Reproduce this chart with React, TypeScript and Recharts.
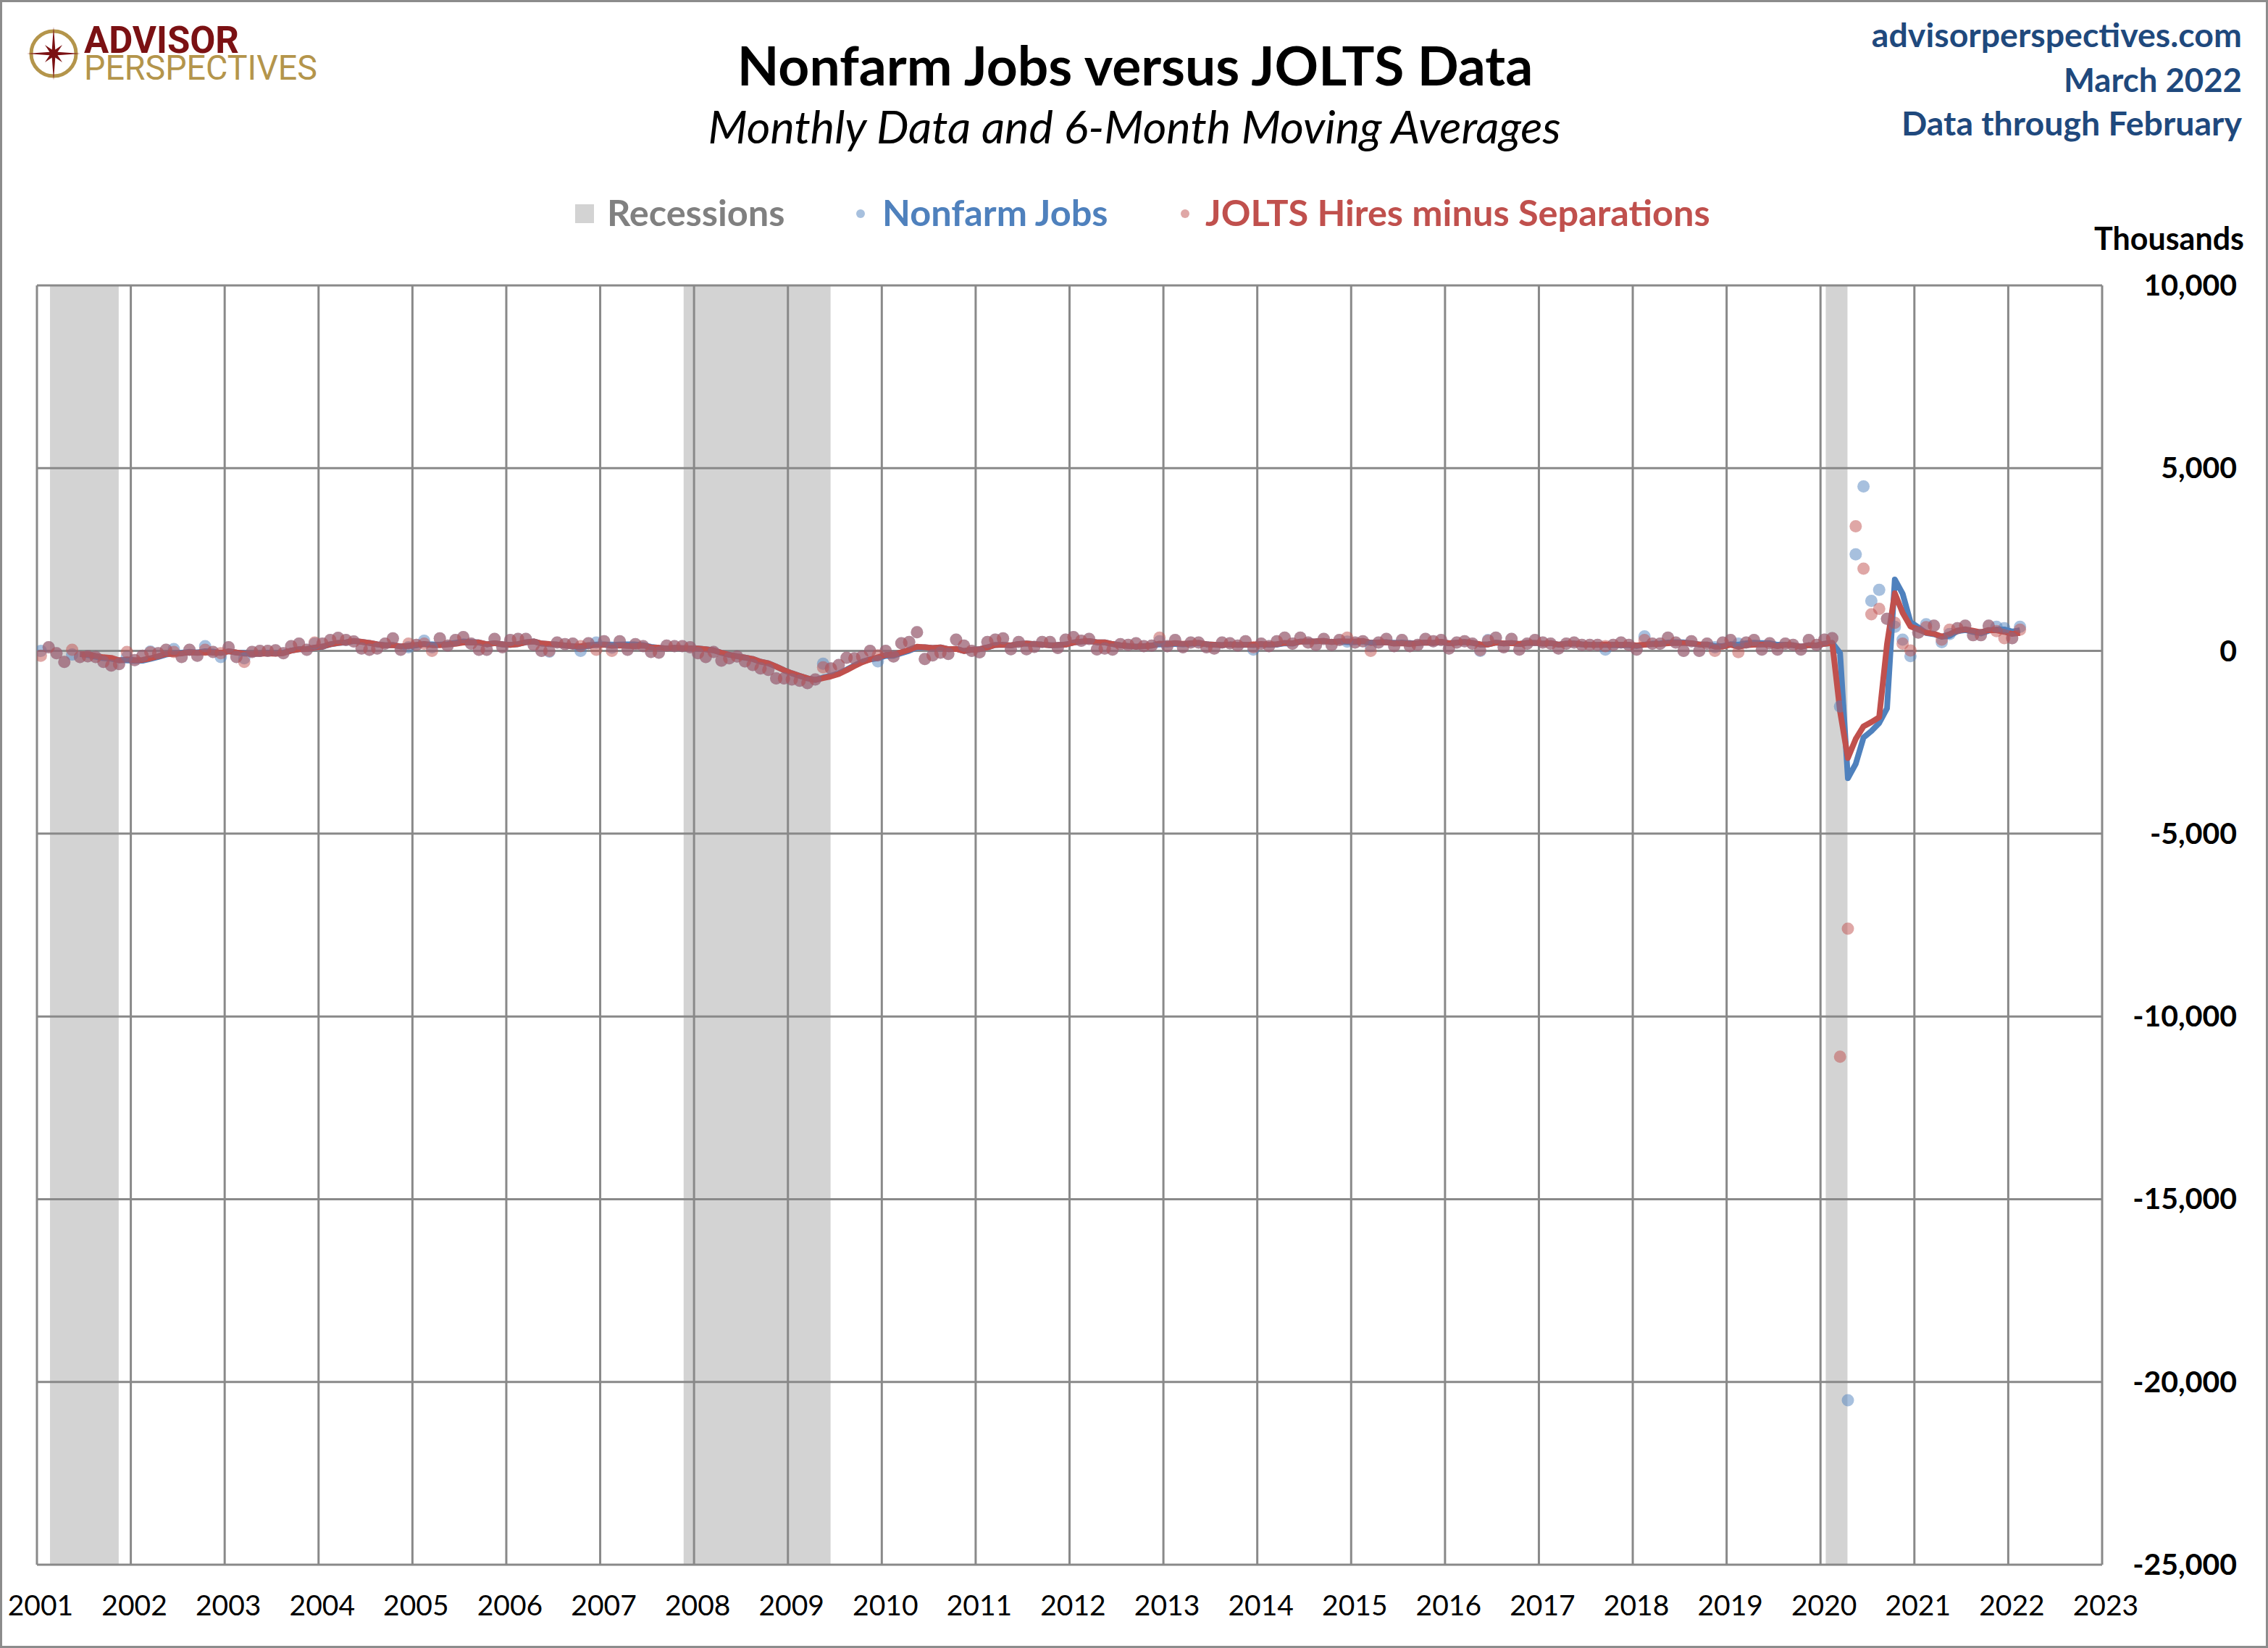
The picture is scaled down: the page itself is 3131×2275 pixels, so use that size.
import React from 'react';
import { ComposedChart, Scatter, Line, XAxis, YAxis, CartesianGrid, ReferenceArea } from 'recharts';

// Monthly change in thousands, January 2001 through February 2022
const START_YEAR = 2001;

const nonfarmJobs = [
  0, 100, -65, -300, -100, -165, -145, -165, -300, -400, -360, -165, // 2001
  -250, -130, -20, -65, 30, 50, -165, 30, -130, 130, -30, -165, // 2002
  100, -165, -200, -30, 0, 0, 15, -65, 130, 200, 30, 200, // 2003
  200, 300, 360, 300, 260, 65, 30, 65, 200, 345, 30, 100, // 2004
  165, 280, 100, 345, 145, 300, 380, 200, 30, 30, 330, 100, // 2005
  300, 330, 330, 165, 0, -20, 230, 185, 200, 0, 210, 230, // 2006
  265, 90, 265, 30, 185, 130, -30, -50, 145, 130, 130, 100, // 2007
  -65, -165, -30, -265, -200, -150, -285, -385, -480, -520, -750, -750, // 2008
  -780, -815, -880, -780, -350, -480, -385, -185, -200, -150, 0, -285, // 2009
  0, -150, 210, 245, 510, -220, -120, -50, -85, 310, 145, 0, // 2010
  -40, 245, 310, 345, 45, 245, 45, 110, 245, 245, 80, 310, // 2011
  380, 280, 330, 40, 65, 35, 185, 165, 210, 130, 145, 265, // 2012
  130, 300, 100, 230, 230, 100, 65, 230, 210, 145, 265, 35, // 2013
  200, 130, 265, 365, 200, 365, 230, 165, 330, 165, 300, 255, // 2014
  230, 265, 130, 230, 330, 130, 300, 130, 165, 330, 265, 300, // 2015
  65, 230, 265, 200, 0, 300, 365, 100, 330, 35, 200, 300, // 2016
  230, 200, 65, 200, 230, 165, 165, 165, 35, 165, 230, 165, // 2017
  35, 400, 200, 200, 365, 230, 0, 265, 0, 200, 100, 230, // 2018
  300, 200, 230, 300, 35, 210, 35, 200, 165, 35, 300, 165, // 2019
  310, 350, -1520, -20500, 2640, 4500, 1370, 1670, 880, 660, 310, -140, // 2020
  500, 730, 690, 240, 460, 620, 690, 430, 430, 690, 660, 620, // 2021
  350, 660, // 2022
];

const joltsNet = [
  -130, 100, -65, -300, 30, -165, -145, -165, -300, -400, -360, -30, // 2001
  -250, -130, -40, -65, 30, -30, -165, 30, -130, 30, -30, -65, // 2002
  100, -165, -300, -30, 0, 0, 15, -65, 130, 200, 30, 230, // 2003
  200, 300, 360, 300, 260, 65, 30, 65, 200, 345, 30, 200, // 2004
  165, 200, 0, 345, 145, 300, 380, 200, 30, 30, 330, 100, // 2005
  300, 330, 330, 165, 0, 0, 230, 185, 200, 130, 210, 30, // 2006
  265, 0, 265, 30, 185, 130, -30, -50, 145, 130, 130, 100, // 2007
  -65, -165, -30, -265, -200, -150, -285, -385, -480, -520, -750, -750, // 2008
  -780, -815, -880, -780, -450, -480, -385, -185, -200, -150, 0, -120, // 2009
  0, -150, 210, 245, 510, -220, -120, -50, -85, 310, 145, 0, // 2010
  -40, 245, 310, 345, 45, 245, 45, 110, 245, 245, 80, 310, // 2011
  380, 280, 330, 40, 65, 35, 185, 165, 210, 130, 145, 365, // 2012
  130, 300, 100, 230, 230, 100, 65, 230, 210, 145, 265, 100, // 2013
  200, 130, 265, 365, 200, 365, 230, 165, 330, 165, 300, 365, // 2014
  230, 265, 0, 230, 330, 130, 300, 130, 165, 330, 265, 300, // 2015
  65, 230, 265, 200, 20, 280, 365, 100, 330, 35, 200, 300, // 2016
  230, 200, 65, 200, 230, 165, 165, 165, 130, 165, 230, 165, // 2017
  35, 300, 200, 200, 365, 230, 0, 265, 0, 200, 0, 230, // 2018
  300, -35, 230, 300, 35, 210, 35, 200, 165, 35, 300, 165, // 2019
  310, 350, -11100, -7600, 3410, 2250, 1000, 1150, 880, 770, 200, 10, // 2020
  500, 650, 690, 310, 580, 620, 690, 430, 430, 690, 540, 350, // 2021
  350, 580, // 2022
];

// [start year, start month, end year, end month]
const recessions = [
  [2001, 3, 2001, 11],
  [2007, 12, 2009, 6],
  [2020, 2, 2020, 4],
];

const yearTicks = [
  2001, 2002, 2003, 2004, 2005, 2006, 2007, 2008, 2009, 2010, 2011, 2012,
  2013, 2014, 2015, 2016, 2017, 2018, 2019, 2020, 2021, 2022, 2023,
];
const valueTicks = [-25000, -20000, -15000, -10000, -5000, 0, 5000, 10000];

const BLUE = '#4f81bd';
const RED = '#c0504d';
const FONT = 'Lato, "Open Sans", sans-serif';

const monthX = (i: number) => START_YEAR + (i + 0.5) / 12;

const toPoints = (vals: number[]) => vals.map((v, i) => ({ x: monthX(i), y: v }));

// trailing 6-month average
const movingAvg = (vals: number[]) =>
  vals.slice(5).map((_, k) => {
    const win = vals.slice(k, k + 6);
    return { x: monthX(k + 5), y: win.reduce((a, b) => a + b, 0) / 6 };
  });

const nonfarmPts = toPoints(nonfarmJobs);
const joltsPts = toPoints(joltsNet);
const nonfarmMA = movingAvg(nonfarmJobs);
const joltsMA = movingAvg(joltsNet);

const dotShape = (color: string) => (props: any) => (
  <circle cx={props.cx} cy={props.cy} r={8.5} fill={color} fillOpacity={0.5} />
);

const YearTick = (props: any) => (
  <text x={props.x + 5} y={props.y + 70} textAnchor="middle" fontFamily={FONT} fontSize={39} fill="#000">
    {props.payload.value}
  </text>
);

const ValueTick = (props: any) => (
  <text
    x={props.x + 186}
    y={props.y + 14}
    textAnchor="end"
    fontFamily={FONT}
    fontWeight="bold"
    fontSize={41}
    fill="#000"
  >
    {Number(props.payload.value).toLocaleString('en-US')}
  </text>
);

const Compass = () => {
  const cx = 74;
  const cy = 74;
  const pts: string[] = [];
  for (let k = 0; k < 16; k++) {
    const a = (k * Math.PI) / 8 - Math.PI / 2;
    const r = k % 4 === 0 ? 37 : k % 2 === 0 ? 17 : 6;
    pts.push(`${cx + r * Math.cos(a)},${cy + r * Math.sin(a)}`);
  }
  return (
    <g>
      <circle cx={cx} cy={cy} r={31} fill="none" stroke="#b4954b" strokeWidth={5} />
      <polygon points={pts.join(' ')} fill="#7b1113" />
    </g>
  );
};

const Header = () => (
  <svg width={3131} height={400} style={{ position: 'absolute', left: 0, top: 0 }}>
    <Compass />
    <text fontFamily="Roboto">
      <tspan x={116} y={73} fontWeight="bold" fontSize={52} fill="#7b1113" textLength={214} lengthAdjust="spacingAndGlyphs">
        ADVISOR
      </tspan>
      <tspan x={116} y={110} fontSize={48} fill="#b4954b" textLength={322} lengthAdjust="spacingAndGlyphs">
        PERSPECTIVES
      </tspan>
    </text>

    <text x={1567} y={118} textAnchor="middle" fontFamily={FONT} fontWeight="bold" fontSize={75} fill="#000">
      Nonfarm Jobs versus JOLTS Data
    </text>
    <text x={1566} y={198} textAnchor="middle" fontFamily={FONT} fontStyle="italic" fontSize={63} fill="#000">
      Monthly Data and 6-Month Moving Averages
    </text>

    <text x={3095} y={65} textAnchor="end" fontFamily={FONT} fontWeight="bold" fontSize={46.5} fill="#1f497d">
      advisorperspectives.com
    </text>
    <text x={3095} y={127} textAnchor="end" fontFamily={FONT} fontWeight="bold" fontSize={45.5} fill="#1f497d">
      March 2022
    </text>
    <text x={3095} y={187} textAnchor="end" fontFamily={FONT} fontWeight="bold" fontSize={46.5} fill="#1f497d">
      Data through February
    </text>
    <text x={3098} y={345} textAnchor="end" fontFamily={FONT} fontWeight="bold" fontSize={43} fill="#000">
      Thousands
    </text>

    <rect x={794} y={282} width={26} height={26} fill="#d3d3d3" />
    <text x={838} y={312} fontFamily={FONT} fontWeight="bold" fontSize={50.5} fill="#808080">
      Recessions
    </text>
    <circle cx={1188} cy={295} r={6} fill={BLUE} fillOpacity={0.5} />
    <text x={1218} y={312} fontFamily={FONT} fontWeight="bold" fontSize={50.5} fill={BLUE}>
      Nonfarm Jobs
    </text>
    <circle cx={1636} cy={295} r={6} fill={RED} fillOpacity={0.5} />
    <text x={1664} y={312} fontFamily={FONT} fontWeight="bold" fontSize={50.5} fill={RED}>
      JOLTS Hires minus Separations
    </text>
  </svg>
);

const App = () => {
  return (
    <div style={{ position: 'absolute', left: 0, top: 0, width: 3131, height: 2275, background: '#fff' }}>
      <ComposedChart
        width={3131}
        height={2275}
        margin={{ top: 394, right: 39, bottom: 35, left: 51 }}
        style={{ position: 'absolute', left: 0, top: 0 }}
      >
        {recessions.map(([y1, m1, y2, m2], i) => (
          <ReferenceArea
            key={i}
            x1={y1 + (m1 - 1 - 0.33) / 12}
            x2={y2 + (m2 - 1 + 0.45) / 12}
            y1={-25000}
            y2={10000}
            fill="#d3d3d3"
            fillOpacity={1}
            stroke="none"
            zIndex={-200}
          />
        ))}
        <CartesianGrid stroke="#898989" strokeWidth={3} />
        <XAxis
          dataKey="x"
          type="number"
          domain={[2001, 2023]}
          ticks={yearTicks}
          allowDataOverflow
          axisLine={false}
          tickLine={false}
          tickSize={0}
          tickMargin={0}
          height={80}
          interval={0}
          tick={YearTick}
        />
        <YAxis
          orientation="right"
          type="number"
          domain={[-25000, 10000]}
          ticks={valueTicks}
          allowDataOverflow
          axisLine={false}
          tickLine={false}
          tickSize={0}
          tickMargin={0}
          width={190}
          interval={0}
          tick={ValueTick}
        />
        <Scatter data={nonfarmPts} dataKey="y" shape={dotShape(BLUE)} isAnimationActive={false} />
        <Scatter data={joltsPts} dataKey="y" shape={dotShape(RED)} isAnimationActive={false} />
        <Line
          data={nonfarmMA}
          dataKey="y"
          type="linear"
          stroke={BLUE}
          strokeWidth={8}
          strokeLinejoin="round"
          dot={false}
          activeDot={false}
          isAnimationActive={false}
        />
        <Line
          data={joltsMA}
          dataKey="y"
          type="linear"
          stroke={RED}
          strokeWidth={8}
          strokeLinejoin="round"
          dot={false}
          activeDot={false}
          isAnimationActive={false}
        />
      </ComposedChart>
      <Header />
      <div
        style={{
          position: 'absolute',
          left: 0,
          top: 0,
          width: 3131,
          height: 2275,
          border: '3px solid #8c8c8c',
          boxSizing: 'border-box',
          pointerEvents: 'none',
        }}
      />
    </div>
  );
};

export default App;
